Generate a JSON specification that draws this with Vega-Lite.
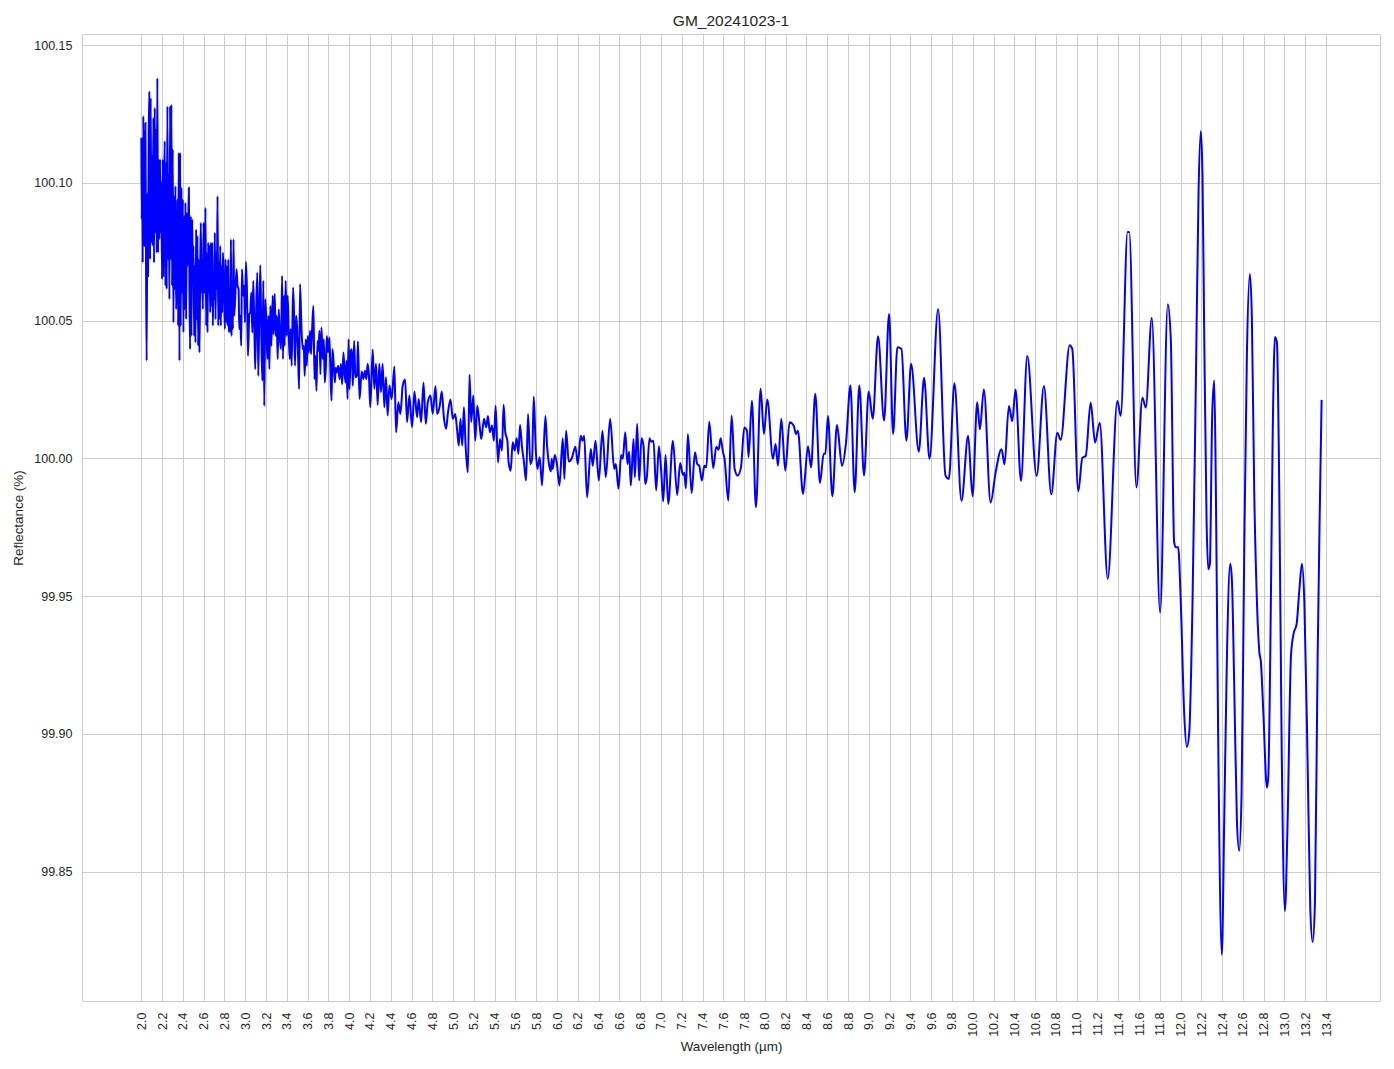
{
"$schema": "https://vega.github.io/schema/vega-lite/v6.json",
"width": 1298, "height": 967,
"autosize": {"type": "none"},
"padding": {"left": 82, "top": 34, "right": 14, "bottom": 68},
"background": "white",
"title": {"text": "GM_20241023-1", "fontSize": 15.5, "font": "Liberation Sans", "fontWeight": "normal", "color": "#262626", "anchor": "middle", "offset": -7, "baseline": "alphabetic"},
"config": {
  "view": {"stroke": "#cccccc", "strokeWidth": 1},
  "axis": {"domain": false, "ticks": false, "tickSize": 0, "grid": true, "gridColor": "#cccccc", "gridWidth": 1, "gridOpacity": 1,
    "labelFont": "Liberation Sans", "labelFontSize": 12.5, "labelColor": "#262626",
    "titleFont": "Liberation Sans", "titleFontSize": 13.4, "titleFontWeight": "normal", "titleColor": "#262626"}
},
"data": {"values": [
{"wl":2.000,"R":100.1163},{"wl":2.003,"R":100.0867},{"wl":2.010,"R":100.1060},{"wl":2.013,"R":100.0710},{"wl":2.019,"R":100.1242},{"wl":2.026,"R":100.0771},{"wl":2.032,"R":100.1097},{"wl":2.039,"R":100.1217},{"wl":2.045,"R":100.0722},{"wl":2.051,"R":100.0354},
{"wl":2.058,"R":100.0964},{"wl":2.064,"R":100.0662},{"wl":2.071,"R":100.1169},{"wl":2.077,"R":100.1332},{"wl":2.084,"R":100.0722},{"wl":2.090,"R":100.1308},{"wl":2.096,"R":100.0783},{"wl":2.103,"R":100.1097},{"wl":2.109,"R":100.0771},{"wl":2.116,"R":100.1236},
{"wl":2.122,"R":100.0710},{"wl":2.129,"R":100.1272},{"wl":2.135,"R":100.0819},{"wl":2.141,"R":100.1193},{"wl":2.148,"R":100.0746},{"wl":2.154,"R":100.1380},{"wl":2.161,"R":100.0746},{"wl":2.167,"R":100.1085},{"wl":2.174,"R":100.0795},{"wl":2.180,"R":100.1085},
{"wl":2.186,"R":100.0819},{"wl":2.193,"R":100.1000},{"wl":2.199,"R":100.0650},{"wl":2.206,"R":100.1085},{"wl":2.212,"R":100.0662},{"wl":2.219,"R":100.0976},{"wl":2.225,"R":100.1151},{"wl":2.232,"R":100.0626},{"wl":2.238,"R":100.1072},{"wl":2.244,"R":100.0614},
{"wl":2.251,"R":100.1278},{"wl":2.257,"R":100.0722},{"wl":2.264,"R":100.1030},{"wl":2.270,"R":100.0577},{"wl":2.277,"R":100.1278},{"wl":2.283,"R":100.0722},{"wl":2.289,"R":100.1284},{"wl":2.296,"R":100.0626},{"wl":2.302,"R":100.1121},{"wl":2.309,"R":100.0493},
{"wl":2.315,"R":100.0952},{"wl":2.322,"R":100.0614},{"wl":2.328,"R":100.0988},{"wl":2.334,"R":100.0541},{"wl":2.341,"R":100.0650},{"wl":2.347,"R":100.0940},{"wl":2.354,"R":100.0481},{"wl":2.360,"R":100.1109},{"wl":2.367,"R":100.0354},{"wl":2.373,"R":100.1109},
{"wl":2.379,"R":100.0481},{"wl":2.386,"R":100.0982},{"wl":2.392,"R":100.0601},{"wl":2.399,"R":100.0940},{"wl":2.405,"R":100.0457},{"wl":2.412,"R":100.0879},{"wl":2.418,"R":100.0541},{"wl":2.424,"R":100.0928},{"wl":2.431,"R":100.0505},{"wl":2.437,"R":100.0891},
{"wl":2.444,"R":100.0698},{"wl":2.450,"R":100.0807},{"wl":2.457,"R":100.0982},{"wl":2.463,"R":100.0601},{"wl":2.469,"R":100.0396},{"wl":2.476,"R":100.0879},{"wl":2.482,"R":100.0444},{"wl":2.489,"R":100.0867},{"wl":2.495,"R":100.0674},{"wl":2.502,"R":100.0771},
{"wl":2.508,"R":100.0444},{"wl":2.514,"R":100.0698},{"wl":2.521,"R":100.0420},{"wl":2.527,"R":100.0831},{"wl":2.534,"R":100.0505},{"wl":2.540,"R":100.0807},{"wl":2.547,"R":100.0408},{"wl":2.553,"R":100.0722},{"wl":2.559,"R":100.0384},{"wl":2.566,"R":100.0662},
{"wl":2.572,"R":100.0855},{"wl":2.579,"R":100.0601},{"wl":2.585,"R":100.0722},{"wl":2.592,"R":100.0541},{"wl":2.598,"R":100.0855},{"wl":2.605,"R":100.0614},{"wl":2.611,"R":100.0601},{"wl":2.617,"R":100.0909},{"wl":2.624,"R":100.0481},{"wl":2.630,"R":100.0746},
{"wl":2.637,"R":100.0457},{"wl":2.643,"R":100.0783},{"wl":2.650,"R":100.0601},{"wl":2.656,"R":100.0771},{"wl":2.662,"R":100.0529},{"wl":2.669,"R":100.0783},{"wl":2.675,"R":100.0553},{"wl":2.682,"R":100.0783},{"wl":2.688,"R":100.0481},{"wl":2.695,"R":100.0662},
{"wl":2.701,"R":100.0577},{"wl":2.707,"R":100.0819},{"wl":2.714,"R":100.0505},{"wl":2.720,"R":100.0746},{"wl":2.727,"R":100.0614},{"wl":2.733,"R":100.0952},{"wl":2.740,"R":100.0481},{"wl":2.746,"R":100.0710},{"wl":2.752,"R":100.0505},{"wl":2.759,"R":100.0771},
{"wl":2.765,"R":100.0481},{"wl":2.772,"R":100.0698},{"wl":2.778,"R":100.0529},{"wl":2.785,"R":100.0746},{"wl":2.791,"R":100.0662},{"wl":2.797,"R":100.0577},{"wl":2.804,"R":100.0469},{"wl":2.810,"R":100.0722},{"wl":2.817,"R":100.0493},{"wl":2.823,"R":100.0698},
{"wl":2.830,"R":100.0481},{"wl":2.836,"R":100.0722},{"wl":2.842,"R":100.0457},{"wl":2.849,"R":100.0614},{"wl":2.855,"R":100.0457},{"wl":2.862,"R":100.0795},{"wl":2.868,"R":100.0444},{"wl":2.875,"R":100.0601},{"wl":2.881,"R":100.0469},{"wl":2.887,"R":100.0795},
{"wl":2.894,"R":100.0517},
{"wl":2.916,"R":100.0686},{"wl":2.926,"R":100.0626},{"wl":2.936,"R":100.0614},{"wl":2.942,"R":100.0469},{"wl":2.952,"R":100.0517},{"wl":2.961,"R":100.0408},{"wl":2.968,"R":100.0686},{"wl":2.981,"R":100.0590},{"wl":2.990,"R":100.0626},{"wl":2.997,"R":100.0493},
{"wl":3.006,"R":100.0713},{"wl":3.016,"R":100.0614},{"wl":3.026,"R":100.0372},{"wl":3.039,"R":100.0523},{"wl":3.048,"R":100.0529},{"wl":3.058,"R":100.0602},{"wl":3.068,"R":100.0456},{"wl":3.077,"R":100.0644},{"wl":3.087,"R":100.0481},{"wl":3.096,"R":100.0323},
{"wl":3.106,"R":100.0553},{"wl":3.116,"R":100.0674},{"wl":3.125,"R":100.0299},{"wl":3.135,"R":100.0529},{"wl":3.145,"R":100.0701},{"wl":3.154,"R":100.0456},{"wl":3.164,"R":100.0281},{"wl":3.174,"R":100.0644},{"wl":3.183,"R":100.0190},{"wl":3.193,"R":100.0577},
{"wl":3.203,"R":100.0493},{"wl":3.212,"R":100.0360},{"wl":3.222,"R":100.0517},{"wl":3.232,"R":100.0323},{"wl":3.241,"R":100.0553},{"wl":3.251,"R":100.0408},{"wl":3.264,"R":100.0590},{"wl":3.273,"R":100.0450},{"wl":3.283,"R":100.0596},{"wl":3.293,"R":100.0444},
{"wl":3.302,"R":100.0517},{"wl":3.312,"R":100.0360},{"wl":3.322,"R":100.0541},{"wl":3.331,"R":100.0450},{"wl":3.344,"R":100.0396},{"wl":3.354,"R":100.0662},{"wl":3.363,"R":100.0360},{"wl":3.373,"R":100.0590},{"wl":3.379,"R":100.0408},{"wl":3.389,"R":100.0644},
{"wl":3.399,"R":100.0444},{"wl":3.408,"R":100.0590},{"wl":3.418,"R":100.0456},{"wl":3.428,"R":100.0360},{"wl":3.437,"R":100.0469},{"wl":3.447,"R":100.0336},{"wl":3.460,"R":100.0620},{"wl":3.469,"R":100.0529},{"wl":3.479,"R":100.0336},{"wl":3.489,"R":100.0517},
{"wl":3.498,"R":100.0481},{"wl":3.508,"R":100.0378},{"wl":3.518,"R":100.0251},{"wl":3.527,"R":100.0632},{"wl":3.540,"R":100.0481},{"wl":3.553,"R":100.0396},{"wl":3.563,"R":100.0408},{"wl":3.572,"R":100.0299},{"wl":3.582,"R":100.0432},{"wl":3.592,"R":100.0336},
{"wl":3.601,"R":100.0444},{"wl":3.611,"R":100.0384},{"wl":3.624,"R":100.0463},{"wl":3.633,"R":100.0378},{"wl":3.646,"R":100.0493},{"wl":3.656,"R":100.0553},{"wl":3.666,"R":100.0287},{"wl":3.675,"R":100.0372},{"wl":3.685,"R":100.0245},{"wl":3.695,"R":100.0426},
{"wl":3.704,"R":100.0390},{"wl":3.714,"R":100.0463},{"wl":3.723,"R":100.0305},{"wl":3.733,"R":100.0475},{"wl":3.746,"R":100.0360},{"wl":3.756,"R":100.0432},{"wl":3.765,"R":100.0275},{"wl":3.775,"R":100.0329},{"wl":3.785,"R":100.0444},{"wl":3.797,"R":100.0384},
{"wl":3.810,"R":100.0438},{"wl":3.820,"R":100.0305},{"wl":3.830,"R":100.0209},{"wl":3.839,"R":100.0396},{"wl":3.849,"R":100.0354},{"wl":3.862,"R":100.0275},{"wl":3.871,"R":100.0329},{"wl":3.881,"R":100.0311},{"wl":3.894,"R":100.0336},{"wl":3.907,"R":100.0287},
{"wl":3.920,"R":100.0342},{"wl":3.932,"R":100.0269},{"wl":3.945,"R":100.0384},{"wl":3.955,"R":100.0311},{"wl":3.965,"R":100.0275},{"wl":3.974,"R":100.0354},{"wl":3.984,"R":100.0215},{"wl":3.994,"R":100.0432},{"wl":4.003,"R":100.0251},{"wl":4.016,"R":100.0390},
{"wl":4.026,"R":100.0396},{"wl":4.035,"R":100.0263},{"wl":4.048,"R":100.0426},
{"wl":4.059,"R":100.0294},{"wl":4.075,"R":100.0300},{"wl":4.084,"R":100.0424},{"wl":4.100,"R":100.0215},{"wl":4.120,"R":100.0315},{"wl":4.136,"R":100.0288},{"wl":4.152,"R":100.0318},{"wl":4.165,"R":100.0288},{"wl":4.178,"R":100.0343},{"wl":4.190,"R":100.0300},
{"wl":4.203,"R":100.0185},{"wl":4.226,"R":100.0395},{"wl":4.242,"R":100.0252},{"wl":4.258,"R":100.0343},{"wl":4.274,"R":100.0194},{"wl":4.290,"R":100.0343},{"wl":4.306,"R":100.0240},{"wl":4.322,"R":100.0343},{"wl":4.338,"R":100.0185},{"wl":4.354,"R":100.0294},
{"wl":4.370,"R":100.0155},{"wl":4.387,"R":100.0264},{"wl":4.409,"R":100.0215},{"wl":4.435,"R":100.0333},{"wl":4.451,"R":100.0094},{"wl":4.473,"R":100.0203},{"wl":4.493,"R":100.0161},{"wl":4.515,"R":100.0264},{"wl":4.538,"R":100.0286},{"wl":4.557,"R":100.0131},
{"wl":4.579,"R":100.0228},{"wl":4.605,"R":100.0113},{"wl":4.628,"R":100.0242},{"wl":4.653,"R":100.0149},{"wl":4.669,"R":100.0215},{"wl":4.692,"R":100.0131},{"wl":4.715,"R":100.0274},{"wl":4.737,"R":100.0125},{"wl":4.756,"R":100.0203},{"wl":4.782,"R":100.0228},
{"wl":4.804,"R":100.0161},{"wl":4.830,"R":100.0262},{"wl":4.846,"R":100.0161},{"wl":4.872,"R":100.0191},{"wl":4.891,"R":100.0242},{"wl":4.911,"R":100.0149},{"wl":4.933,"R":100.0107},{"wl":4.949,"R":100.0161},{"wl":4.975,"R":100.0213},{"wl":4.997,"R":100.0143},
{"wl":5.020,"R":100.0161},{"wl":5.039,"R":100.0100},{"wl":5.055,"R":100.0046},{"wl":5.071,"R":100.0143},{"wl":5.088,"R":100.0046},{"wl":5.104,"R":100.0185},{"wl":5.120,"R":100.0046},{"wl":5.142,"R":99.9949},{"wl":5.158,"R":100.0303},{"wl":5.174,"R":100.0131},
{"wl":5.194,"R":100.0228},{"wl":5.213,"R":100.0064},{"wl":5.232,"R":100.0191},{"wl":5.255,"R":100.0119},{"wl":5.271,"R":100.0070},{"wl":5.297,"R":100.0143},{"wl":5.319,"R":100.0113},{"wl":5.335,"R":100.0153},{"wl":5.354,"R":100.0094},{"wl":5.374,"R":100.0119},
{"wl":5.393,"R":100.0064},{"wl":5.409,"R":100.0191},{"wl":5.432,"R":99.9985},{"wl":5.451,"R":100.0070},{"wl":5.470,"R":100.0028},{"wl":5.486,"R":100.0194},{"wl":5.502,"R":100.0094},{"wl":5.522,"R":100.0064},{"wl":5.534,"R":99.9985},{"wl":5.554,"R":99.9955},
{"wl":5.573,"R":100.0058},{"wl":5.592,"R":100.0028},{"wl":5.612,"R":100.0073},{"wl":5.628,"R":100.0016},{"wl":5.644,"R":100.0121},{"wl":5.663,"R":100.0040},{"wl":5.682,"R":99.9985},{"wl":5.702,"R":99.9919},{"wl":5.721,"R":100.0161},{"wl":5.743,"R":99.9979},
{"wl":5.760,"R":99.9998},{"wl":5.776,"R":100.0224},{"wl":5.795,"R":100.0034},{"wl":5.811,"R":99.9961},{"wl":5.833,"R":100.0004},{"wl":5.856,"R":99.9901},{"wl":5.888,"R":100.0153},{"wl":5.904,"R":100.0046},{"wl":5.920,"R":99.9985},{"wl":5.940,"R":99.9952},
{"wl":5.949,"R":99.9998},{"wl":5.959,"R":99.9961},{"wl":5.978,"R":100.0012},{"wl":5.997,"R":99.9985},{"wl":6.023,"R":99.9901},{"wl":6.055,"R":100.0073},{"wl":6.071,"R":99.9925},{"wl":6.087,"R":100.0100},{"wl":6.113,"R":99.9988},{"wl":6.142,"R":100.0000},
{"wl":6.177,"R":100.0042},{"wl":6.200,"R":99.9979},{"wl":6.228,"R":100.0082},{"wl":6.244,"R":100.0064},{"wl":6.261,"R":100.0082},{"wl":6.289,"R":99.9858},{"wl":6.325,"R":100.0034},{"wl":6.344,"R":99.9973},{"wl":6.370,"R":100.0064},{"wl":6.402,"R":99.9919},
{"wl":6.437,"R":100.0100},{"wl":6.469,"R":99.9931},{"wl":6.511,"R":100.0143},{"wl":6.550,"R":99.9961},{"wl":6.566,"R":99.9979},{"wl":6.591,"R":99.9889},{"wl":6.617,"R":100.0012},{"wl":6.633,"R":99.9998},{"wl":6.656,"R":100.0094},{"wl":6.678,"R":99.9979},
{"wl":6.694,"R":100.0024},{"wl":6.710,"R":99.9901},{"wl":6.736,"R":100.0070},{"wl":6.749,"R":99.9931},{"wl":6.771,"R":100.0125},{"wl":6.790,"R":99.9919},{"wl":6.813,"R":100.0073},{"wl":6.832,"R":100.0046},{"wl":6.848,"R":99.9907},{"wl":6.864,"R":99.9931},
{"wl":6.890,"R":100.0073},{"wl":6.906,"R":100.0060},{"wl":6.928,"R":100.0064},{"wl":6.954,"R":99.9883},{"wl":6.980,"R":100.0044},{"wl":7.002,"R":99.9955},{"wl":7.022,"R":99.9843},{"wl":7.044,"R":100.0012},{"wl":7.070,"R":99.9834},{"wl":7.115,"R":100.0064},
{"wl":7.156,"R":99.9867},{"wl":7.185,"R":99.9983},{"wl":7.211,"R":99.9940},{"wl":7.224,"R":99.9947},{"wl":7.240,"R":99.9891},{"wl":7.259,"R":100.0088},{"wl":7.295,"R":99.9874},{"wl":7.327,"R":100.0022},{"wl":7.349,"R":99.9979},{"wl":7.368,"R":99.9973},
{"wl":7.394,"R":99.9919},{"wl":7.417,"R":99.9973},{"wl":7.436,"R":99.9967},{"wl":7.465,"R":100.0133},{"wl":7.503,"R":99.9964},{"wl":7.532,"R":100.0042},{"wl":7.555,"R":100.0031},{"wl":7.574,"R":100.0073},{"wl":7.596,"R":100.0024},{"wl":7.612,"R":99.9998},
{"wl":7.648,"R":99.9846},{"wl":7.680,"R":100.0155},{"wl":7.709,"R":99.9961},{"wl":7.738,"R":99.9937},{"wl":7.770,"R":99.9967},{"wl":7.802,"R":100.0112},{"wl":7.828,"R":100.0100},
{"wl":7.843,"R":100.0004},{"wl":7.875,"R":100.0209},{"wl":7.914,"R":99.9822},{"wl":7.959,"R":100.0252},{"wl":7.991,"R":100.0088},{"wl":8.023,"R":100.0213},{"wl":8.078,"R":99.9998},{"wl":8.103,"R":100.0052},{"wl":8.126,"R":99.9973},{"wl":8.158,"R":100.0143},
{"wl":8.196,"R":99.9955},{"wl":8.238,"R":100.0131},{"wl":8.277,"R":100.0119},{"wl":8.299,"R":100.0088},{"wl":8.318,"R":100.0100},{"wl":8.367,"R":99.9870},{"wl":8.415,"R":100.0044},{"wl":8.444,"R":99.9967},{"wl":8.485,"R":100.0234},{"wl":8.530,"R":99.9910},
{"wl":8.566,"R":100.0016},{"wl":8.582,"R":100.0016},{"wl":8.607,"R":100.0153},{"wl":8.649,"R":99.9862},{"wl":8.694,"R":100.0121},{"wl":8.742,"R":99.9973},{"wl":8.781,"R":100.0058},{"wl":8.823,"R":100.0264},{"wl":8.864,"R":99.9877},{"wl":8.909,"R":100.0264},
{"wl":8.954,"R":99.9937},{"wl":8.999,"R":100.0242},{"wl":9.038,"R":100.0143},{"wl":9.089,"R":100.0443},{"wl":9.147,"R":100.0137},{"wl":9.195,"R":100.0524},{"wl":9.234,"R":100.0088},{"wl":9.275,"R":100.0403},{"wl":9.314,"R":100.0397},{"wl":9.362,"R":100.0064},
{"wl":9.407,"R":100.0343},{"wl":9.481,"R":100.0024},{"wl":9.532,"R":100.0292},{"wl":9.584,"R":99.9998},{"wl":9.667,"R":100.0542},{"wl":9.738,"R":99.9937},{"wl":9.770,"R":99.9925},{"wl":9.824,"R":100.0272},{"wl":9.892,"R":99.9846},{"wl":9.956,"R":100.0082},
{"wl":9.998,"R":99.9862},{"wl":10.043,"R":100.0203},
{"wl":10.069,"R":100.0105},{"wl":10.107,"R":100.0250},{"wl":10.172,"R":99.9839},{"wl":10.220,"R":99.9948},{"wl":10.277,"R":100.0033},{"wl":10.306,"R":99.9978},{"wl":10.348,"R":100.0190},{"wl":10.380,"R":100.0135},{"wl":10.412,"R":100.0250},{"wl":10.464,"R":99.9918},
{"wl":10.525,"R":100.0371},{"wl":10.615,"R":99.9936},{"wl":10.685,"R":100.0262},{"wl":10.756,"R":99.9869},{"wl":10.814,"R":100.0093},{"wl":10.846,"R":100.0067},{"wl":10.933,"R":100.0410},{"wl":10.958,"R":100.0396},{"wl":11.016,"R":99.9881},{"wl":11.055,"R":100.0002},
{"wl":11.087,"R":100.0008},{"wl":11.135,"R":100.0202},{"wl":11.177,"R":100.0057},{"wl":11.222,"R":100.0129},{"wl":11.299,"R":99.9563},{"wl":11.392,"R":100.0208},{"wl":11.424,"R":100.0154},{"wl":11.490,"R":100.0821},{"wl":11.506,"R":100.0821},{"wl":11.575,"R":99.9894},
{"wl":11.633,"R":100.0220},{"wl":11.665,"R":100.0184},{"wl":11.723,"R":100.0510},{"wl":11.803,"R":99.9440},{"wl":11.877,"R":100.0559},
{"wl":11.906,"R":100.0431},{"wl":11.938,"R":99.9696},{"wl":11.954,"R":99.9677},{"wl":11.977,"R":99.9677},{"wl":12.002,"R":99.9478},{"wl":12.034,"R":99.9081},{"wl":12.060,"R":99.8952},{"wl":12.083,"R":99.9002},{"wl":12.115,"R":99.9478},{"wl":12.147,"R":100.0272},
{"wl":12.173,"R":100.0966},{"wl":12.195,"R":100.1188},{"wl":12.211,"R":100.1026},{"wl":12.227,"R":100.0470},{"wl":12.250,"R":99.9776},{"wl":12.266,"R":99.9597},{"wl":12.282,"R":99.9617},{"wl":12.304,"R":100.0153},{"wl":12.324,"R":100.0282},{"wl":12.340,"R":99.9875},
{"wl":12.362,"R":99.8982},{"wl":12.397,"R":99.8198},{"wl":12.420,"R":99.8685},{"wl":12.446,"R":99.9280},{"wl":12.478,"R":99.9617},{"wl":12.494,"R":99.9557},{"wl":12.516,"R":99.9180},{"wl":12.542,"R":99.8685},{"wl":12.564,"R":99.8575},{"wl":12.587,"R":99.8784},
{"wl":12.613,"R":99.9677},{"wl":12.638,"R":100.0371},{"wl":12.667,"R":100.0669},{"wl":12.686,"R":100.0510},{"wl":12.709,"R":99.9875},{"wl":12.735,"R":99.9478},{"wl":12.757,"R":99.9300},{"wl":12.773,"R":99.9260},{"wl":12.796,"R":99.9081},{"wl":12.831,"R":99.8804},
{"wl":12.844,"R":99.8843},{"wl":12.863,"R":99.9280},{"wl":12.886,"R":100.0073},{"wl":12.908,"R":100.0440},{"wl":12.927,"R":100.0421},{"wl":12.950,"R":99.9875},{"wl":12.972,"R":99.8982},{"wl":13.004,"R":99.8357},{"wl":13.030,"R":99.8685},{"wl":13.062,"R":99.9280},
{"wl":13.085,"R":99.9359},{"wl":13.117,"R":99.9399},{"wl":13.142,"R":99.9518},{"wl":13.168,"R":99.9617},{"wl":13.191,"R":99.9478},{"wl":13.223,"R":99.8883},{"wl":13.248,"R":99.8367},{"wl":13.271,"R":99.8244},{"wl":13.293,"R":99.8387},{"wl":13.319,"R":99.9280},
{"wl":13.338,"R":99.9776},{"wl":13.357,"R":100.0212}
]},
"mark": {"type": "line", "color": "#0000ff", "strokeWidth": 2, "clip": true, "interpolate": "monotone"},
"encoding": {
  "x": {"field": "wl", "type": "quantitative",
    "scale": {"domain": [1.429, 13.919], "nice": false, "zero": false},
    "axis": {"title": "Wavelength (µm)", "format": ".1f", "labelAngle": -90, "labelPadding": 11, "titlePadding": 3,
      "values": [2,2.2,2.4,2.6,2.8,3,3.2,3.4,3.6,3.8,4,4.2,4.4,4.6,4.8,5,5.2,5.4,5.6,5.8,6,6.2,6.4,6.6,6.8,7,7.2,7.4,7.6,7.8,8,8.2,8.4,8.6,8.8,9,9.2,9.4,9.6,9.8,10,10.2,10.4,10.6,10.8,11,11.2,11.4,11.6,11.8,12,12.2,12.4,12.6,12.8,13,13.2,13.4]}},
  "y": {"field": "R", "type": "quantitative",
    "scale": {"domain": [99.803, 100.154], "nice": false, "zero": false},
    "axis": {"title": "Reflectance (%)", "format": ".2f", "labelPadding": 10, "titlePadding": 8,
      "values": [99.85, 99.9, 99.95, 100, 100.05, 100.1, 100.15]}}
}
}
